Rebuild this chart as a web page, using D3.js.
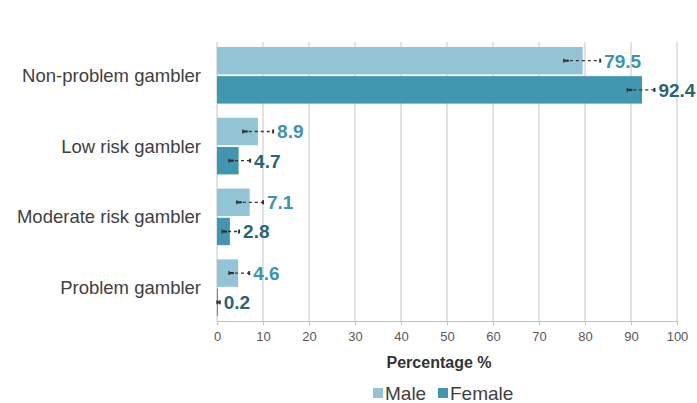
<!DOCTYPE html>
<html><head><meta charset="utf-8">
<script src="https://cdn.jsdelivr.net/npm/d3@7"></script>
<style>
body{margin:0;background:#fff;}
svg{font-family:"Liberation Sans",Arial,sans-serif;}
</style></head>
<body><svg id="c" width="697" height="403"></svg>
<script>
const categories = ["Non-problem gambler","Low risk gambler","Moderate risk gambler","Problem gambler"];
const series = ["Male","Female"];
const maleValues = [79.5, 8.9, 7.1, 4.6];
const femaleValues = [92.4, 4.7, 2.8, 0.2];
const maleLower = [75.4, 5.6, 4.3, 2.6];
const maleUpper = [83.3, 12.2, 10.0, 7.0];
const femaleLower = [89.2, 2.6, 1.1, 0.0];
const femaleUpper = [95.1, 7.2, 4.8, 0.6];
const xTicks = [0,10,20,30,40,50,60,70,80,90,100];

const colors = {Male:"#93c4d6", Female:"#4196b0"};
const labelColors = {Male:"#3b94b0", Female:"#2a6577"};

const data = categories.map((c,i)=>({cat:c, vals:[
  {s:"Male", v:maleValues[i], lo:maleLower[i], hi:maleUpper[i]},
  {s:"Female", v:femaleValues[i], lo:femaleLower[i], hi:femaleUpper[i]}
]}));

const svg = d3.select("#c");
const mL=217, mR=677, mT=42, mB=321;
const x = d3.scaleLinear().domain([0,100]).range([mL,mR]);
const y = d3.scaleBand().domain(categories).range([mT,mB]).paddingInner(0.2).paddingOuter(0.07);
const y1 = d3.scaleBand().domain(series).range([0,y.bandwidth()]).paddingInner(0.06);

// gridlines
svg.append("g").selectAll("line").data(xTicks).join("line")
  .attr("x1",d=>x(d)).attr("x2",d=>x(d)).attr("y1",mT).attr("y2",mB)
  .attr("stroke","#d9d9d9").attr("stroke-width",1.5);

// x axis
const xa = svg.append("g").attr("transform",`translate(0,${mB})`)
  .call(d3.axisBottom(x).tickValues(xTicks).tickSize(4).tickPadding(7));
xa.select(".domain").attr("stroke","#bfbfbf").attr("stroke-width",1.2);
xa.selectAll(".tick line").attr("stroke","#bfbfbf");
xa.selectAll("text").attr("fill","#595959").attr("font-size","13px")
  .attr("font-family","'Liberation Sans',Arial,sans-serif");

// category labels
svg.append("g").selectAll("text").data(categories).join("text")
  .attr("x",201).attr("y",d=>y(d)+y.bandwidth()/2).attr("dy","0.35em")
  .attr("text-anchor","end").attr("fill","#404040").attr("font-size","18.5px").text(d=>d);

const g = svg.append("g").selectAll("g").data(data).join("g")
  .attr("transform",d=>`translate(0,${y(d.cat)})`);

g.selectAll("rect").data(d=>d.vals).join("rect")
  .attr("x",x(0)).attr("y",d=>y1(d.s)).attr("height",y1.bandwidth())
  .attr("width",d=>Math.max(1,x(d.v)-x(0))).attr("fill",d=>colors[d.s]);

// error bars
const eb = g.selectAll("g.eb").data(d=>d.vals).join("g").attr("class","eb")
  .attr("transform",d=>`translate(0,${y1(d.s)+y1.bandwidth()/2})`);
eb.append("line").attr("x1",d=>x(d.lo)).attr("x2",d=>x(d.hi)).attr("y1",0).attr("y2",0)
  .attr("stroke","#333").attr("stroke-width",1.3).attr("stroke-dasharray","3,3");
eb.append("line").attr("x1",d=>x(d.lo)).attr("x2",d=>x(d.lo)+Math.min(5,x(d.hi)-x(d.lo))).attr("y1",0).attr("y2",0)
  .attr("stroke","#333").attr("stroke-width",2.2);
eb.append("line").attr("x1",d=>x(d.lo)).attr("x2",d=>x(d.lo)).attr("y1",-2).attr("y2",2)
  .attr("stroke","#333").attr("stroke-width",1.3);
eb.append("line").attr("x1",d=>x(d.hi)).attr("x2",d=>x(d.hi)).attr("y1",-2).attr("y2",2)
  .attr("stroke","#333").attr("stroke-width",2);

// value labels
g.selectAll("text.val").data(d=>d.vals).join("text").attr("class","val")
  .attr("x",d=>x(d.hi)+4).attr("y",d=>y1(d.s)+y1.bandwidth()/2).attr("dy","0.36em")
  .attr("fill",d=>labelColors[d.s]).attr("font-weight","bold").attr("font-size","19px")
  .text(d=>d.v.toFixed(1));

// axis title
svg.append("text").attr("x",439).attr("y",368).attr("text-anchor","middle")
  .attr("font-weight","bold").attr("font-size","16px").attr("fill","#333").text("Percentage %");

// legend
const leg = svg.append("g").attr("transform","translate(373,393)");
const items = [{s:"Male",x:0},{s:"Female",x:65}];
const li = leg.selectAll("g").data(items).join("g").attr("transform",d=>`translate(${d.x},0)`);
li.append("rect").attr("x",0).attr("y",-5).attr("width",10).attr("height",10).attr("fill",d=>colors[d.s]);
li.append("text").attr("x",12).attr("y",0).attr("dy","0.36em").attr("font-size","19px").attr("fill","#404040").text(d=>d.s);
</script></body></html>
